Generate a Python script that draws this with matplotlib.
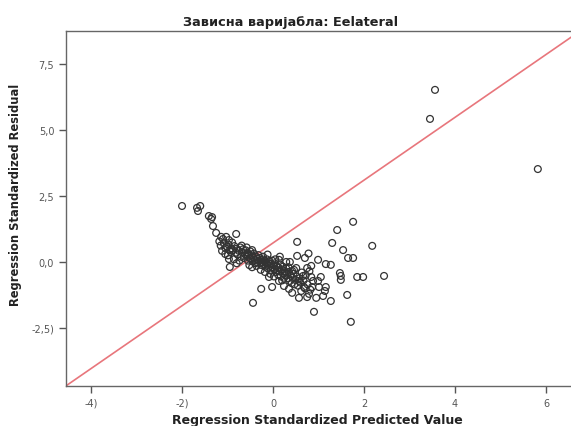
import matplotlib
matplotlib.use("Agg")
import matplotlib.pyplot as plt

# Predicted (x) and residual (y) values
pred = [
    -2.00, -1.67, -1.60, -1.65, -1.41, -1.36, -1.34, -1.32, -1.25, -1.14,
    -1.10, -1.03, -0.97, -0.81, -1.12, -1.05, -0.95, -0.97, -0.95, -0.46,
    -0.26, -0.44, 0.53, 0.53, 0.13, 0.29, 0.37, 0.13, 0.24, 0.35,
    0.42, 0.57, 0.75, 0.79, 0.95, 1.10, 1.14, 0.90, 1.01, 1.16,
    1.05, 0.99, 0.99, 1.16, 1.27, 1.30, 1.41, 1.76, 1.54, 1.65,
    1.76, 2.18, 2.44, 1.85, 1.98, 1.47, 1.49, 1.49, 1.27, 1.63,
    1.71, 0.84, 0.88, 0.75, 0.84, 0.68, 0.57, 0.66, 0.42, 0.51,
    -0.09, -0.02, 3.56, 3.45, 5.82,
    # dense band
    -1.18, -1.15, -1.08, -1.02, -0.98, -0.92, -0.90, -1.05, -0.99, -0.93,
    -0.88, -0.85, -0.82, -0.80, -0.78, -0.75, -0.72, -0.70, -0.68, -0.66,
    -0.64, -0.62, -0.86, -0.80, -0.74, -0.69, -0.60,
    -0.58, -0.56, -0.55, -0.53, -0.51, -0.50, -0.48, -0.47, -0.45, -0.44,
    -0.42, -0.40, -0.39, -0.37, -0.35, -0.34, -0.32, -0.31, -0.52, -0.46,
    -0.58, -0.36,
    -0.29, -0.28, -0.26, -0.25, -0.23, -0.22, -0.20, -0.19, -0.17, -0.16,
    -0.14, -0.13, -0.11, -0.10, -0.08, -0.07, -0.05, -0.04, -0.02, -0.01,
    -0.27, -0.18, -0.12, -0.06,
    0.01, 0.03, 0.04, 0.06, 0.08, 0.09, 0.11, 0.12, 0.14, 0.16,
    0.17, 0.19, 0.21, 0.22, 0.24, 0.26, 0.27, 0.29, 0.05, 0.15,
    0.02, 0.20,
    0.31, 0.33, 0.35, 0.37, 0.39, 0.41, 0.43, 0.45, 0.47, 0.49,
    0.52, 0.55, 0.58, 0.60, 0.34, 0.46,
    0.63, 0.67, 0.70, 0.72, 0.76, 0.80, 0.82, 0.86, 0.62, 0.70, 0.78,
]
resid = [
    2.12, 2.05, 2.12, 1.93, 1.74, 1.63, 1.70, 1.36, 1.10, 0.95,
    0.87, 0.95, 0.83, 1.06, 0.42, 0.53, 0.45, 0.11, -0.19, 0.45,
    -1.02, -1.55, 0.76, 0.23, 0.08, 0.00, 0.00, -0.72, -0.91, -1.02,
    -1.17, -1.36, -1.33, -1.21, -1.36, -1.29, -1.10, -1.89, -0.95, -0.95,
    -0.57, -0.72, 0.08, -0.08, -0.11, 0.72, 1.21, 1.52, 0.45, 0.15,
    0.15, 0.61, -0.53, -0.57, -0.57, -0.42, -0.53, -0.68, -1.48, -1.25,
    -2.27, -0.57, -0.72, -0.23, -0.15, -0.95, -0.72, -0.53, -0.34, -0.23,
    -0.57, -0.95, 6.52, 5.42, 3.52,
    0.78, 0.62, 0.70, 0.58, 0.66, 0.52, 0.74, 0.30, 0.25, 0.38,
    0.45, 0.60, 0.35, 0.50, 0.28, 0.42, 0.55, 0.20, 0.36, 0.48,
    0.15, 0.30, 0.10, -0.05, 0.05, 0.62, 0.44,
    0.22, 0.35, 0.05, 0.28, 0.15, 0.40, 0.10, 0.25, 0.02, 0.18,
    0.32, 0.08, -0.05, 0.20, 0.12, -0.02, 0.26, 0.05, -0.12, -0.20,
    0.55, -0.15,
    0.15, -0.05, 0.08, -0.12, 0.00, 0.20, -0.08, 0.05, -0.18, -0.02,
    0.10, -0.10, -0.25, -0.05, 0.02, -0.15, -0.30, -0.08, 0.05, -0.20,
    -0.30, -0.38, 0.28, -0.45,
    -0.12, -0.28, -0.05, -0.38, -0.18, -0.30, -0.48, -0.22, -0.35, -0.10,
    -0.55, -0.28, -0.42, -0.18, -0.60, -0.35, -0.50, -0.25, 0.10, 0.20,
    -0.55, -0.70,
    -0.45, -0.62, -0.38, -0.72, -0.52, -0.80, -0.60, -0.45, -0.85, -0.68,
    -0.55, -0.90, -0.62, -0.78, -0.20, -0.30,
    -0.40, -0.70, -1.00, -0.50, -0.85, -0.35, -1.05, -0.95, -1.10, 0.15, 0.32,
]

x_ticks = [-4, -2, 0, 2, 4, 6]
x_ticklabels = ["-4)", "-2)", "0", "2", "4", "6"]
y_ticks = [-2.5, 0.0, 2.5, 5.0, 7.5]
y_ticklabels = ["-2,5)", "0,0", "2,5", "5,0", "7,5"]

# reference line
line_x = [-4.55, 6.8]
line_slope = 1.19
line_icpt = 0.72

fig = plt.figure(figsize=(5.71, 4.27), dpi=100)
ax = fig.add_axes([0.1156, 0.0937, 0.9044, 0.8313])

ax.plot(line_x, [line_icpt + line_slope * v for v in line_x], color='#e8767c', lw=1.2, zorder=1)
ax.scatter(pred, resid, s=24, facecolors='none', edgecolors='#333333', linewidths=0.9, zorder=2)

ax.set_xlim(-4.55, 6.8)
ax.set_ylim(-4.70, 8.75)
ax.set_xticks(x_ticks)
ax.set_xticklabels(x_ticklabels)
ax.set_yticks(y_ticks)
ax.set_yticklabels(y_ticklabels)
ax.tick_params(direction='out', length=5, width=1, color='#555555', labelsize=7, labelcolor='#555555')

for side in ['left', 'bottom', 'top', 'right']:
    ax.spines[side].set_color('#666666')
    ax.spines[side].set_linewidth(1.0)

fig.text(0.508, 0.948, 'Зависна варијабла: Eelateral', ha='center', va='center',
         fontsize=9.3, fontweight='bold', color='#222222')
fig.text(0.555, 0.016, 'Regression Standardized Predicted Value', ha='center', va='center',
         fontsize=9, fontweight='bold', color='#222222')
fig.text(0.028, 0.543, 'Regression Standardized Residual', ha='center', va='center',
         rotation=90, fontsize=8.3, fontweight='bold', color='#222222')

fig.savefig('out.png', dpi=100)
